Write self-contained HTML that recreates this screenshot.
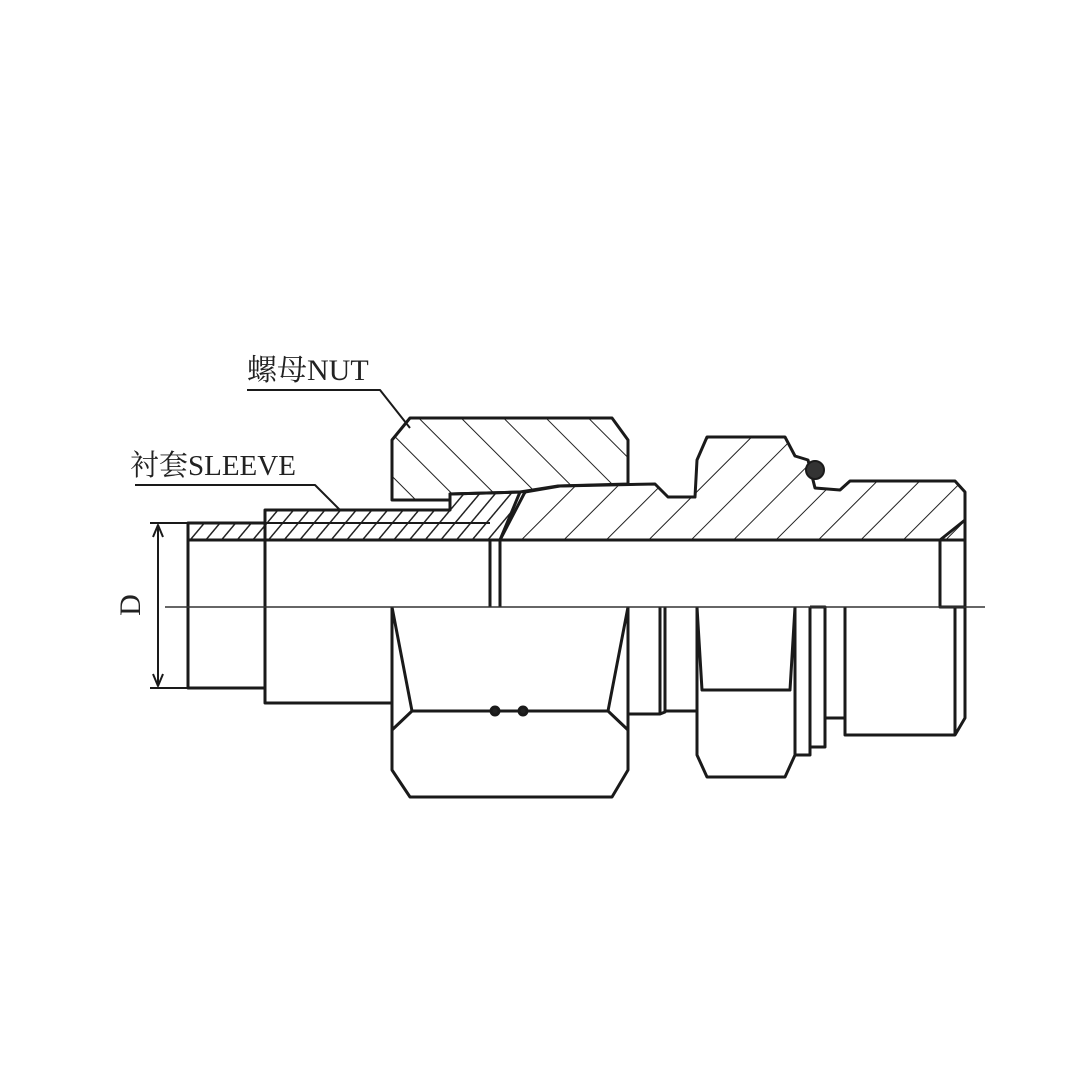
<!DOCTYPE html>
<html><head><style>html,body{margin:0;padding:0;background:#fff;}svg{display:block}</style></head>
<body>
<svg width="1080" height="1080" viewBox="0 0 1080 1080" xmlns="http://www.w3.org/2000/svg">
<defs>
<pattern id="h1" patternUnits="userSpaceOnUse" width="30" height="30" patternTransform="rotate(45)">
<line x1="0" y1="0" x2="0" y2="30" stroke="#222" stroke-width="2"/></pattern>
<pattern id="h2" patternUnits="userSpaceOnUse" width="30" height="30" patternTransform="rotate(-45)">
<line x1="0" y1="0" x2="0" y2="30" stroke="#222" stroke-width="2"/></pattern>
<pattern id="h3" patternUnits="userSpaceOnUse" width="12" height="12" patternTransform="rotate(40)">
<line x1="0" y1="0" x2="0" y2="12" stroke="#222" stroke-width="3"/></pattern>
</defs>
<g fill="none" stroke="#1a1a1a" stroke-width="3" stroke-linejoin="round">
<path d="M392,440 L410,418 L612,418 L628,440 L628,484 L558,486 L520,492 L450,494 L450,500 L392,500 Z" fill="url(#h2)"/>
<path d="M500,540 L525,492 L560,486 L655,484 L668,497 L695,497 L697,460 L707,437 L785,437 L795,456 L808,460 L815,488 L840,490 L850,481 L955,481 L965,492 L965,540 Z" fill="url(#h1)"/>
<circle cx="815" cy="470" r="9" fill="#333" stroke-width="2"/>
<path d="M265,510 L450,510 L450,494 L520,492 L500,540 L265,540 Z" fill="url(#h3)"/>
<path d="M188,523 L265,523 L265,540 L188,540 Z" fill="url(#h3)"/>
<path d="M265,523 L490,523" stroke-width="2"/>
<path d="M188,540 L188,688 L265,688 M265,523 L265,703 L392,703"/>
<path d="M490,540 L490,607 M500,540 L500,607"/>
<path d="M500,540 L940,540 L965,520 M940,540 L940,607 L965,607"/>
<path d="M392,607 L392,770 L410,797 L612,797 L628,770 L628,607"/>
<path d="M392,607 L412,711 L608,711 L628,607"/>
<path d="M392,730 L412,711 M628,730 L608,711"/>
<circle cx="495" cy="711" r="4" fill="#222"/><circle cx="523" cy="711" r="4" fill="#222"/>
<path d="M628,607 L628,714 L660,714 L660,607 M660,714 L665,712 L665,607"/>
<path d="M665,711 L697,711"/>
<path d="M697,607 L697,755 L707,777 L785,777 L795,755 L795,607"/>
<path d="M697,607 L702,690 L790,690 L795,607"/>
<path d="M795,607 L795,755 L810,755 L810,607 M810,607 L825,607 L825,747 L810,747"/>
<path d="M825,718 L845,718 M845,607 L845,735 L955,735 L965,718 L965,607 M955,607 L955,735"/>
<path d="M965,492 L965,607"/>
<path d="M247,390 L380,390 L410,428" stroke-width="2"/>
<path d="M135,485 L315,485 L340,510" stroke-width="2"/>
<path d="M158,525 L158,686" stroke-width="2"/>
<path d="M153,537 L158,525 L163,537 M153,674 L158,686 L163,674" stroke-width="2"/>
<path d="M150,523 L188,523 M150,688 L188,688" stroke-width="2"/>
</g>
<path d="M165,607 L985,607" stroke="#333" stroke-width="1.5"/>
<text x="247" y="380" font-family="'Liberation Serif','Noto Serif CJK SC',serif" font-size="30" fill="#222">螺母NUT</text>
<text x="130" y="475" font-family="'Liberation Serif','Noto Serif CJK SC',serif" font-size="29" fill="#222">衬套SLEEVE</text>
<text transform="translate(140,605) rotate(-90)" text-anchor="middle" font-family="'Liberation Serif',serif" font-size="30" fill="#222">D</text>
</svg>
</body></html>
